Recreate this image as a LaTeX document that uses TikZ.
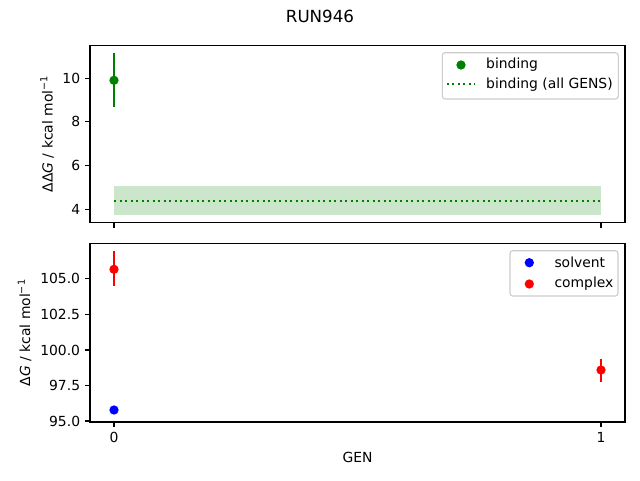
\documentclass[tikz,border=0pt]{standalone}
\usepackage{fontspec}
\setmainfont{DejaVu Sans}
\definecolor{mplgreen}{RGB}{0,128,0}
\definecolor{mplblue}{RGB}{0,0,255}
\definecolor{mplred}{RGB}{255,0,0}
\begin{document}
\begin{tikzpicture}[x=1pt,y=-1pt,
    txt/.style={font=\fontsize{13.9}{16}\selectfont,inner sep=0pt},
    spine/.style={line width=1.1pt},
    errbar/.style={line width=2.1pt},
    dot/.style={circle,inner sep=0pt,minimum size=9.3pt},
    legbox/.style={draw=black!20,fill=white,fill opacity=0.8,rounded corners=2.8pt,line width=1.1pt}]
        \useasboundingbox (0,0) rectangle (640,480);
        \node[txt,font=\fontsize{16.7}{19}\selectfont] (title) at (320,16) {RUN946};
        % top axes
        \fill[mplgreen,fill opacity=0.2] (114,186) rectangle (601,215.3);
        \draw[mplgreen,line width=2.1pt,dash pattern=on 2.1pt off 3.4pt] (114,200.7) -- (601,200.7);
        \draw[mplgreen,errbar] (114,53.3) -- (114,106.7);
        \node[dot,fill=mplgreen] (bind0) at (114,80.3) {};
        \draw[spine] (90,45.3) rectangle (625,222.7);
        \foreach \v/\y in {4/209.3,6/165.6,8/121.9,10/78.3} {
          \draw[spine] (90,\y) -- (85.1,\y);
          \node[txt,anchor=east] (ttop\v) at (80.3,\y) {\v};
        }
        \foreach \x in {114,601} \draw[spine] (\x,222.7) -- (\x,227.6);
        \node[txt,rotate=90] (ylabtop) at (47,134) {ΔΔ\textit{G} / kcal mol\textsuperscript{−1}};
        \draw[legbox] (442.3,52.7) rectangle (618.3,99);
        \node[dot,fill=mplgreen] (legbind) at (461,65) {};
        \node[txt,anchor=west] (legbindtxt) at (486,65) {binding};
        \draw[mplgreen,line width=2.1pt,dash pattern=on 2.1pt off 3.4pt] (446.7,84.3) -- (475,84.3);
        \node[txt,anchor=west] (legalltxt) at (486,84.3) {binding (all GENS)};
        % bottom axes
        \draw[mplred,errbar] (114,251) -- (114,285.7);
        \node[dot,fill=mplred] (cplx0) at (114,269.3) {};
        \draw[mplred,errbar] (601,359) -- (601,381.7);
        \node[dot,fill=mplred] (cplx1) at (601,370) {};
        \node[dot,fill=mplblue] (solv0) at (114,410) {};
        \draw[spine] (90,243.3) rectangle (625,422);
        \foreach \v/\y in {95.0/421,97.5/385.3,100.0/350,102.5/314.3,105.0/278.6} {
          \draw[spine] (90,\y) -- (85.1,\y);
          \node[txt,anchor=east] at (80.3,\y) {\v};
        }
        \foreach \x/\g in {114/0,601/1} {
          \draw[spine] (\x,422) -- (\x,426.9);
          \node[txt,anchor=north] (gen\g) at (\x,431.7) {\g};
        }
        \node[txt] (xlab) at (357.5,457) {GEN};
        \node[txt,rotate=90] (ylabbot) at (24.5,332.7) {Δ\textit{G} / kcal mol\textsuperscript{−1}};
        \draw[legbox] (510,250.7) rectangle (618,296);
        \node[dot,fill=mplblue] (legsolv) at (529.3,262.7) {};
        \node[txt,anchor=west] (legsolvtxt) at (554.3,262.7) {solvent};
        \node[dot,fill=mplred] (legcplx) at (529.3,284) {};
        \node[txt,anchor=west] (legcplxtxt) at (554.3,284) {complex};
      \end{tikzpicture}
\end{document}
